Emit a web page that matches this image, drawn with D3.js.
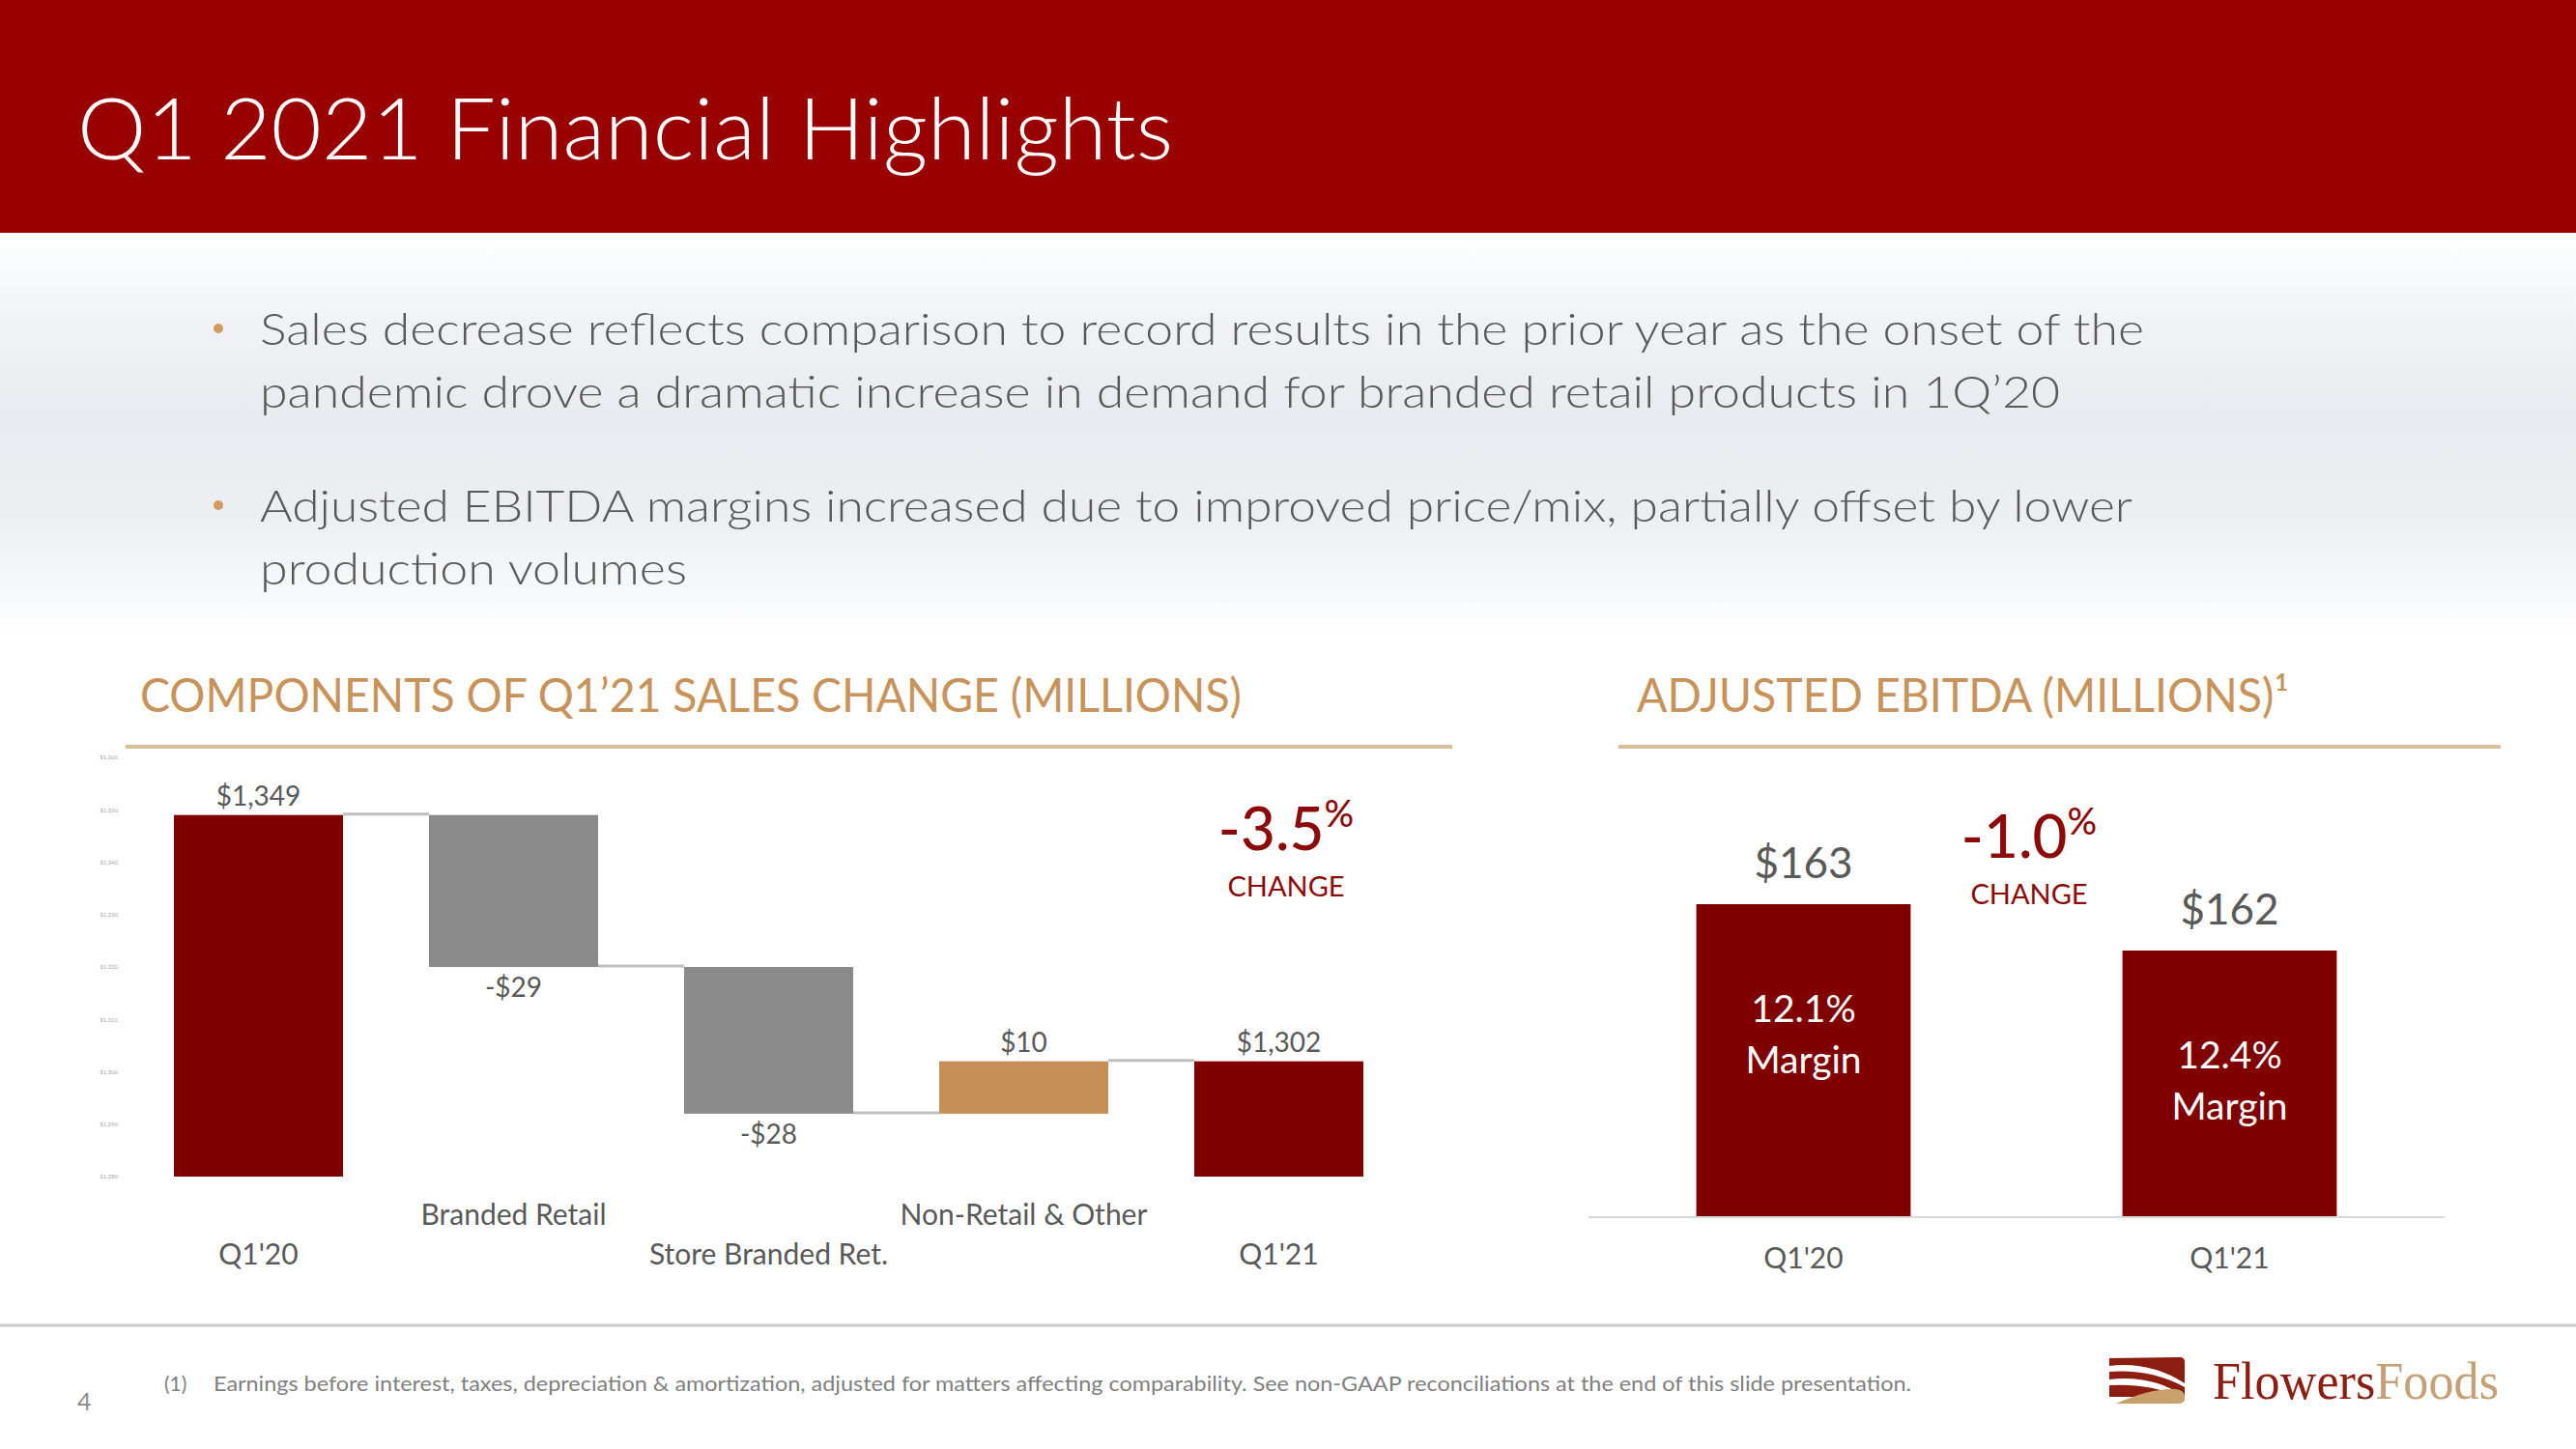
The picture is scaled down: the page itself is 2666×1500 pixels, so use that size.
<!DOCTYPE html>
<html>
<head>
<meta charset="utf-8">
<script src="https://cdn.jsdelivr.net/npm/d3@7"></script>
<style>
  body { margin: 0; background: #fff; }
  svg { display: block; font-family: Lato, "Open Sans", sans-serif; }
</style>
</head>
<body>
<div id="slide"></div>
<script>
// ---- data ----
const titleText = "Q1 2021 Financial Highlights";
const bulletLines = [
  ["Sales decrease reflects comparison to record results in the prior year as the onset of the",
   "pandemic drove a dramatic increase in demand for branded retail products in 1Q\u201920"],
  ["Adjusted EBITDA margins increased due to improved price/mix, partially offset by lower",
   "production volumes"]
];

const salesCats = ["Q1'20", "Branded Retail", "Store Branded Ret.", "Non-Retail & Other", "Q1'21"];
const salesValues = [1349, -29, -28, 10, 1302];
const salesKinds = ["total", "delta", "delta", "delta", "total"];
const salesLabels = ["$1,349", "-$29", "-$28", "$10", "$1,302"];
const salesTicks = [1280, 1290, 1300, 1310, 1320, 1330, 1340, 1350, 1360];
const salesChange = "-3.5";

const ebitdaCats = ["Q1'20", "Q1'21"];
const ebitdaValues = [163, 162];
const ebitdaLabels = ["$163", "$162"];
const ebitdaMargins = ["12.1%", "12.4%"];
const ebitdaChange = "-1.0";

const footnote = "Earnings before interest, taxes, depreciation & amortization, adjusted for matters affecting  comparability. See non-GAAP reconciliations at the end of this slide presentation.";

// ---- colours ----
const darkRed = "#800000", headerRed = "#990000", tan = "#c8935a", grey = "#8a8a8a", textGrey = "#595959";

const W = 2666, H = 1500;
const svg = d3.select("#slide").append("svg").attr("width", W).attr("height", H);

// background gradient under the title bar
const defs = svg.append("defs");
const grad = defs.append("linearGradient").attr("id", "bg").attr("x1", 0).attr("y1", 0).attr("x2", 0).attr("y2", 1);
[[0, "#ffffff"], [0.22, "#f0f2f5"], [0.45, "#e8ebef"], [0.7, "#eceef2"], [1, "#ffffff"]]
  .forEach(s => grad.append("stop").attr("offset", s[0]).attr("stop-color", s[1]));
svg.append("rect").attr("x", 0).attr("y", 241).attr("width", W).attr("height", 420).attr("fill", "url(#bg)");

// title bar
svg.append("rect").attr("x", 0).attr("y", 0).attr("width", W).attr("height", 241).attr("fill", headerRed);
svg.append("text").attr("x", 80).attr("y", 165)
  .attr("font-size", 88).attr("font-weight", 300).attr("fill", "#fff")
  .attr("textLength", 1134).attr("lengthAdjust", "spacingAndGlyphs")
  .text(titleText);

// bullets
const bulletBase = [357, 540];
const lineWidths = [[1950, 1863], [1938, 442]];
bulletLines.forEach((lines, i) => {
  svg.append("circle").attr("cx", 226).attr("cy", bulletBase[i] - 17).attr("r", 5).attr("fill", "#d09a60");
  lines.forEach((ln, j) => {
    svg.append("text").attr("x", 269).attr("y", bulletBase[i] + j * 65)
      .attr("font-size", 46).attr("font-weight", 300).attr("fill", textGrey)
      .attr("textLength", lineWidths[i][j]).attr("lengthAdjust", "spacingAndGlyphs")
      .text(ln);
  });
});

// section headings
svg.append("text").attr("x", 145).attr("y", 737).attr("font-size", 48).attr("fill", tan)
  .attr("textLength", 1140).attr("lengthAdjust", "spacingAndGlyphs")
  .text("COMPONENTS OF Q1\u201921 SALES CHANGE (MILLIONS)");
svg.append("line").attr("x1", 130).attr("x2", 1503).attr("y1", 773).attr("y2", 773)
  .attr("stroke", "#d6bf9a").attr("stroke-width", 4);

svg.append("text").attr("x", 1694).attr("y", 737).attr("font-size", 48).attr("fill", tan)
  .attr("textLength", 675).attr("lengthAdjust", "spacingAndGlyphs")
  .text("ADJUSTED EBITDA (MILLIONS)\u00b9");
svg.append("line").attr("x1", 1675).attr("x2", 2588).attr("y1", 773).attr("y2", 773)
  .attr("stroke", "#d6bf9a").attr("stroke-width", 4);

// ---- waterfall chart ----
const xS = d3.scaleBand().domain(salesCats).range([135.5, 1455.5]).paddingInner(0.337).paddingOuter(0.1685);
const yS = d3.scaleLinear().domain([1280, 1360]).range([1218, 784]);
const bw = xS.bandwidth();

let run = 0;
const steps = salesValues.map((v, i) => {
  let lo, hi;
  if (salesKinds[i] === "total") { lo = yS.domain()[0]; hi = v; run = v; }
  else { lo = run; hi = run + v; run += v; }
  return { cat: salesCats[i], v, kind: salesKinds[i], y0: Math.min(lo, hi), y1: Math.max(lo, hi), end: run, label: salesLabels[i], i };
});

const wf = svg.append("g");

// tiny axis labels
const axisG = wf.append("g").attr("transform", "translate(122,0)")
  .call(d3.axisLeft(yS).tickValues(salesTicks).tickSize(0).tickPadding(0).tickFormat(d => "$" + d3.format(",")(d)));
axisG.select(".domain").remove();
axisG.selectAll("text").attr("font-size", 6).attr("fill", "#a6a6a6").style("font-family", "Lato, sans-serif");

wf.selectAll("rect.bar").data(steps).join("rect").attr("class", "bar")
  .attr("x", d => xS(d.cat)).attr("width", bw)
  .attr("y", d => yS(d.y1)).attr("height", d => yS(d.y0) - yS(d.y1))
  .attr("fill", d => d.kind === "total" ? darkRed : (d.v < 0 ? grey : "#c58f57"));

// connectors
wf.selectAll("line.conn").data(steps.slice(0, -1)).join("line").attr("class", "conn")
  .attr("x1", d => xS(d.cat) + bw).attr("x2", d => xS(salesCats[d.i + 1]))
  .attr("y1", d => yS(d.end) - 1).attr("y2", d => yS(d.end) - 1)
  .attr("stroke", "#bfbfbf").attr("stroke-width", 3);

// value labels
wf.selectAll("text.val").data(steps).join("text").attr("class", "val")
  .attr("x", d => xS(d.cat) + bw / 2)
  .attr("y", d => d.v < 0 ? yS(d.y0) + 31 : yS(d.y1) - 10)
  .attr("text-anchor", "middle").attr("font-size", 28).attr("fill", textGrey)
  .text(d => d.label);

// category labels (staggered)
wf.selectAll("text.cat").data(steps).join("text").attr("class", "cat")
  .attr("x", d => xS(d.cat) + bw / 2)
  .attr("y", d => d.i % 2 === 0 ? 1309 : 1268)
  .attr("text-anchor", "middle").attr("font-size", 30).attr("fill", textGrey)
  .text(d => d.cat);

function changeBadge(cx, base, value) {
  const t = svg.append("text").attr("x", cx).attr("y", base).attr("text-anchor", "middle")
    .attr("fill", "#8b0a0a").attr("font-size", 62).attr("font-weight", 500);
  t.append("tspan").text(value);
  t.append("tspan").attr("font-size", 38).attr("dy", -24).text("%");
  svg.append("text").attr("x", cx).attr("y", base + 48).attr("text-anchor", "middle")
    .attr("fill", "#8b0a0a").attr("font-size", 29).text("CHANGE");
}
changeBadge(1331, 880, salesChange);

// ---- EBITDA chart ----
const xE = d3.scaleBand().domain(ebitdaCats).range([1644, 2530]).paddingInner(0.497).paddingOuter(0.253);
const yE = d3.scaleLinear().domain([156.25, 163]).range([1260, 936]);
const bwE = xE.bandwidth();
const eb = svg.append("g");
const eData = ebitdaCats.map((c, i) => ({ c, v: ebitdaValues[i], label: ebitdaLabels[i], m: ebitdaMargins[i] }));

eb.selectAll("rect").data(eData).join("rect")
  .attr("x", d => xE(d.c)).attr("width", bwE)
  .attr("y", d => yE(d.v)).attr("height", d => yE.range()[0] - yE(d.v))
  .attr("fill", darkRed);

eb.append("line").attr("x1", 1644).attr("x2", 2530).attr("y1", 1260).attr("y2", 1260)
  .attr("stroke", "#d9d9d9").attr("stroke-width", 2);

eb.selectAll("text.val").data(eData).join("text").attr("class", "val")
  .attr("x", d => xE(d.c) + bwE / 2).attr("y", d => yE(d.v) - 27)
  .attr("text-anchor", "middle").attr("font-size", 44).attr("fill", textGrey).text(d => d.label);
eb.selectAll("text.m1").data(eData).join("text").attr("class", "m1")
  .attr("x", d => xE(d.c) + bwE / 2).attr("y", d => yE(d.v) + 122)
  .attr("text-anchor", "middle").attr("font-size", 39).attr("fill", "#fff").text(d => d.m);
eb.selectAll("text.m2").data(eData).join("text").attr("class", "m2")
  .attr("x", d => xE(d.c) + bwE / 2).attr("y", d => yE(d.v) + 175)
  .attr("text-anchor", "middle").attr("font-size", 39).attr("fill", "#fff").text("Margin");
eb.selectAll("text.cat").data(eData).join("text").attr("class", "cat")
  .attr("x", d => xE(d.c) + bwE / 2).attr("y", 1313)
  .attr("text-anchor", "middle").attr("font-size", 30).attr("fill", textGrey).text(d => d.c);

changeBadge(2100, 888, ebitdaChange);

// ---- footer ----
svg.append("line").attr("x1", 0).attr("x2", W).attr("y1", 1372).attr("y2", 1372)
  .attr("stroke", "#c8c8c8").attr("stroke-width", 3);
svg.append("text").attr("x", 170).attr("y", 1440).attr("font-size", 21).attr("fill", "#7f7f7f").text("(1)");
svg.append("text").attr("x", 221).attr("y", 1440).attr("font-size", 21).attr("fill", "#7f7f7f")
  .attr("textLength", 1757).attr("lengthAdjust", "spacingAndGlyphs").text(footnote);
svg.append("text").attr("x", 80).attr("y", 1460).attr("font-size", 25).attr("fill", "#8c8c8c").text("4");

// logo
const logo = svg.append("g");
logo.append("path").attr("fill", "#8b1e10")
  .attr("d", "M2183,1406 L2256,1405 Q2261,1405 2261,1410 L2261,1446 L2183,1446 Z");
logo.append("path").attr("fill", "#fff")
  .attr("d", "M2183,1414 Q2225,1409 2261,1432 L2261,1436 Q2226,1417 2183,1420 Z");
logo.append("path").attr("fill", "#fff")
  .attr("d", "M2183,1428 Q2228,1423 2261,1446 L2255,1446 Q2225,1432 2183,1434 Z");
logo.append("path").attr("fill", "#c9a06c")
  .attr("d", "M2190,1453 Q2225,1437 2252,1438 Q2261,1439 2261,1446 L2261,1449 Q2260,1453 2254,1453 Z");
const lt = logo.append("text").attr("x", 2290).attr("y", 1448)
  .style("font-family", "'Liberation Serif', 'DejaVu Serif', serif")
  .attr("font-size", 54).attr("textLength", 296).attr("lengthAdjust", "spacingAndGlyphs");
lt.append("tspan").attr("fill", "#8b1e10").text("Flowers");
lt.append("tspan").attr("fill", "#c4a176").text("Foods");
</script>
</body>
</html>
